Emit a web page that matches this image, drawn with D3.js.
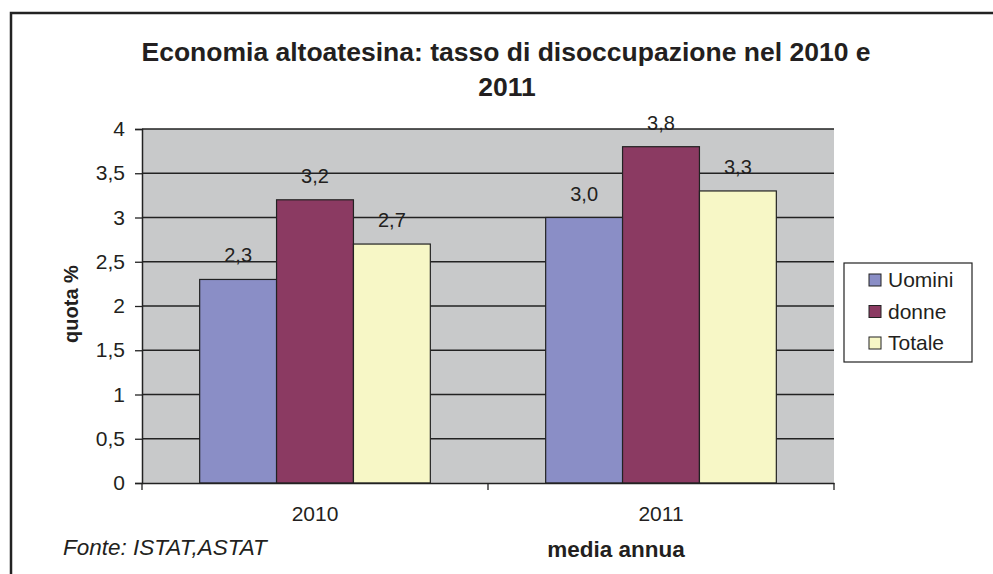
<!DOCTYPE html>
<html>
<head>
<meta charset="utf-8">
<script src="https://cdn.jsdelivr.net/npm/d3@7"></script>
<style>
  body { margin: 0; background: #fff; }
  svg { display: block; font-family: "Liberation Sans", Arial, sans-serif; }
</style>
</head>
<body>
<svg id="chart" width="993" height="574"></svg>
<script>
// data
const years = ["2010", "2011"];
const seriesNames = ["Uomini", "donne", "Totale"];
const uomini = [2.3, 3.0];
const donne  = [3.2, 3.8];
const totale = [2.7, 3.3];
const yTicks = [0, 0.5, 1, 1.5, 2, 2.5, 3, 3.5, 4];
const colors = ["#8a8ec6", "#8b3a62", "#f7f7c6"];

const seriesVals = [uomini, donne, totale];
const rows = years.map((yr, i) => ({
  year: yr,
  vals: seriesNames.map((s, j) => ({ key: s, v: seriesVals[j][i] }))
}));

const svg = d3.select("#chart");
const fmt = v => d3.format(".1f")(v).replace(".", ",");
const fmtTick = v => String(v).replace(".", ",");
const INK = "#231f20";
const FONT = "Liberation Sans, Arial, sans-serif";

// outer frame (runs off the right/bottom edges)
svg.append("rect")
  .attr("x", 11).attr("y", 13)
  .attr("width", 1000).attr("height", 600)
  .attr("fill", "#fff").attr("stroke", "#222").attr("stroke-width", 2.5);

const M = { left: 142, top: 129, right: 834, bottom: 483 };

const x = d3.scaleBand().domain(years).range([M.left, M.right]);
const y = d3.scaleLinear().domain([0, 4]).range([M.bottom, M.top]);
// gap width 150%
const barW = x.bandwidth() / (seriesNames.length + 1.5);
const x1 = d3.scaleBand().domain(seriesNames)
  .range([0, barW * seriesNames.length]);

// plot area
svg.append("rect")
  .attr("x", M.left).attr("y", M.top)
  .attr("width", M.right - M.left).attr("height", M.bottom - M.top)
  .attr("fill", "#c8c9ca");

// gridlines
svg.append("g").selectAll("line").data(yTicks.filter(d => d > 0)).join("line")
  .attr("x1", M.left).attr("x2", M.right)
  .attr("y1", d => y(d)).attr("y2", d => y(d))
  .attr("stroke", "#222").attr("stroke-width", 1.3);

// bars
const grp = svg.append("g").selectAll("g").data(rows).join("g")
  .attr("transform", d => `translate(${x(d.year) + (x.bandwidth() - barW * 3) / 2},0)`);

grp.selectAll("rect").data(d => d.vals).join("rect")
  .attr("x", d => x1(d.key))
  .attr("y", d => y(d.v))
  .attr("width", x1.bandwidth())
  .attr("height", d => y(0) - y(d.v))
  .attr("fill", (d, i) => colors[i])
  .attr("stroke", "#222").attr("stroke-width", 1.2);

grp.selectAll("text").data(d => d.vals).join("text")
  .attr("x", d => x1(d.key) + x1.bandwidth() / 2)
  .attr("y", d => y(d.v) - 17)
  .attr("text-anchor", "middle")
  .attr("font-size", 20).attr("fill", INK)
  .text(d => fmt(d.v));

// y axis
const yAxis = svg.append("g").attr("transform", `translate(${M.left},0)`)
  .call(d3.axisLeft(y).tickValues(yTicks).tickFormat(fmtTick).tickSize(7).tickPadding(10));
yAxis.select(".domain").attr("stroke", "#222").attr("stroke-width", 1.5);
yAxis.selectAll(".tick line").attr("stroke", "#222").attr("stroke-width", 1.3);
yAxis.selectAll("text").attr("font-size", 21).attr("fill", INK).attr("font-family", FONT);

// x axis
const xAxis = svg.append("g").attr("transform", `translate(0,${M.bottom})`)
  .call(d3.axisBottom(x).tickSize(0).tickPadding(23));
xAxis.select(".domain").attr("stroke", "#222").attr("stroke-width", 1.5);
xAxis.selectAll("text").attr("font-size", 21).attr("fill", INK).attr("font-family", FONT);
// category separator ticks
svg.append("g").selectAll("line")
  .data([M.left, x("2011"), M.right]).join("line")
  .attr("x1", d => d).attr("x2", d => d)
  .attr("y1", M.bottom).attr("y2", M.bottom + 7)
  .attr("stroke", "#222").attr("stroke-width", 1.3);

// titles
svg.append("text").attr("x", 506).attr("y", 61)
  .attr("text-anchor", "middle").attr("font-size", 26.5).attr("font-weight", "bold")
  .attr("fill", INK)
  .text("Economia altoatesina: tasso di disoccupazione nel 2010 e");
svg.append("text").attr("x", 507).attr("y", 96)
  .attr("text-anchor", "middle").attr("font-size", 26.5).attr("font-weight", "bold")
  .attr("fill", INK).text("2011");

svg.append("text")
  .attr("transform", "translate(78,304) rotate(-90)")
  .attr("text-anchor", "middle").attr("font-size", 20).attr("font-weight", "bold")
  .attr("fill", INK).text("quota %");

svg.append("text").attr("x", 616).attr("y", 557)
  .attr("text-anchor", "middle").attr("font-size", 22.5).attr("font-weight", "bold")
  .attr("fill", INK).text("media annua");

svg.append("text").attr("x", 63).attr("y", 555)
  .attr("font-size", 22.5).attr("font-style", "italic")
  .attr("fill", INK).text("Fonte: ISTAT,ASTAT");

// legend
const lg = svg.append("g");
lg.append("rect").attr("x", 844).attr("y", 263).attr("width", 128).attr("height", 99)
  .attr("fill", "#fff").attr("stroke", "#222").attr("stroke-width", 1.2);
const li = lg.selectAll("g").data(seriesNames).join("g")
  .attr("transform", (d, i) => `translate(869,${280 + i * 31.5})`);
li.append("rect").attr("x", 0).attr("y", -6).attr("width", 12).attr("height", 12)
  .attr("fill", (d, i) => colors[i]).attr("stroke", "#222").attr("stroke-width", 1);
li.append("text").attr("x", 19).attr("y", 7)
  .attr("font-size", 21).attr("fill", INK).text(d => d);
</script>
</body>
</html>
